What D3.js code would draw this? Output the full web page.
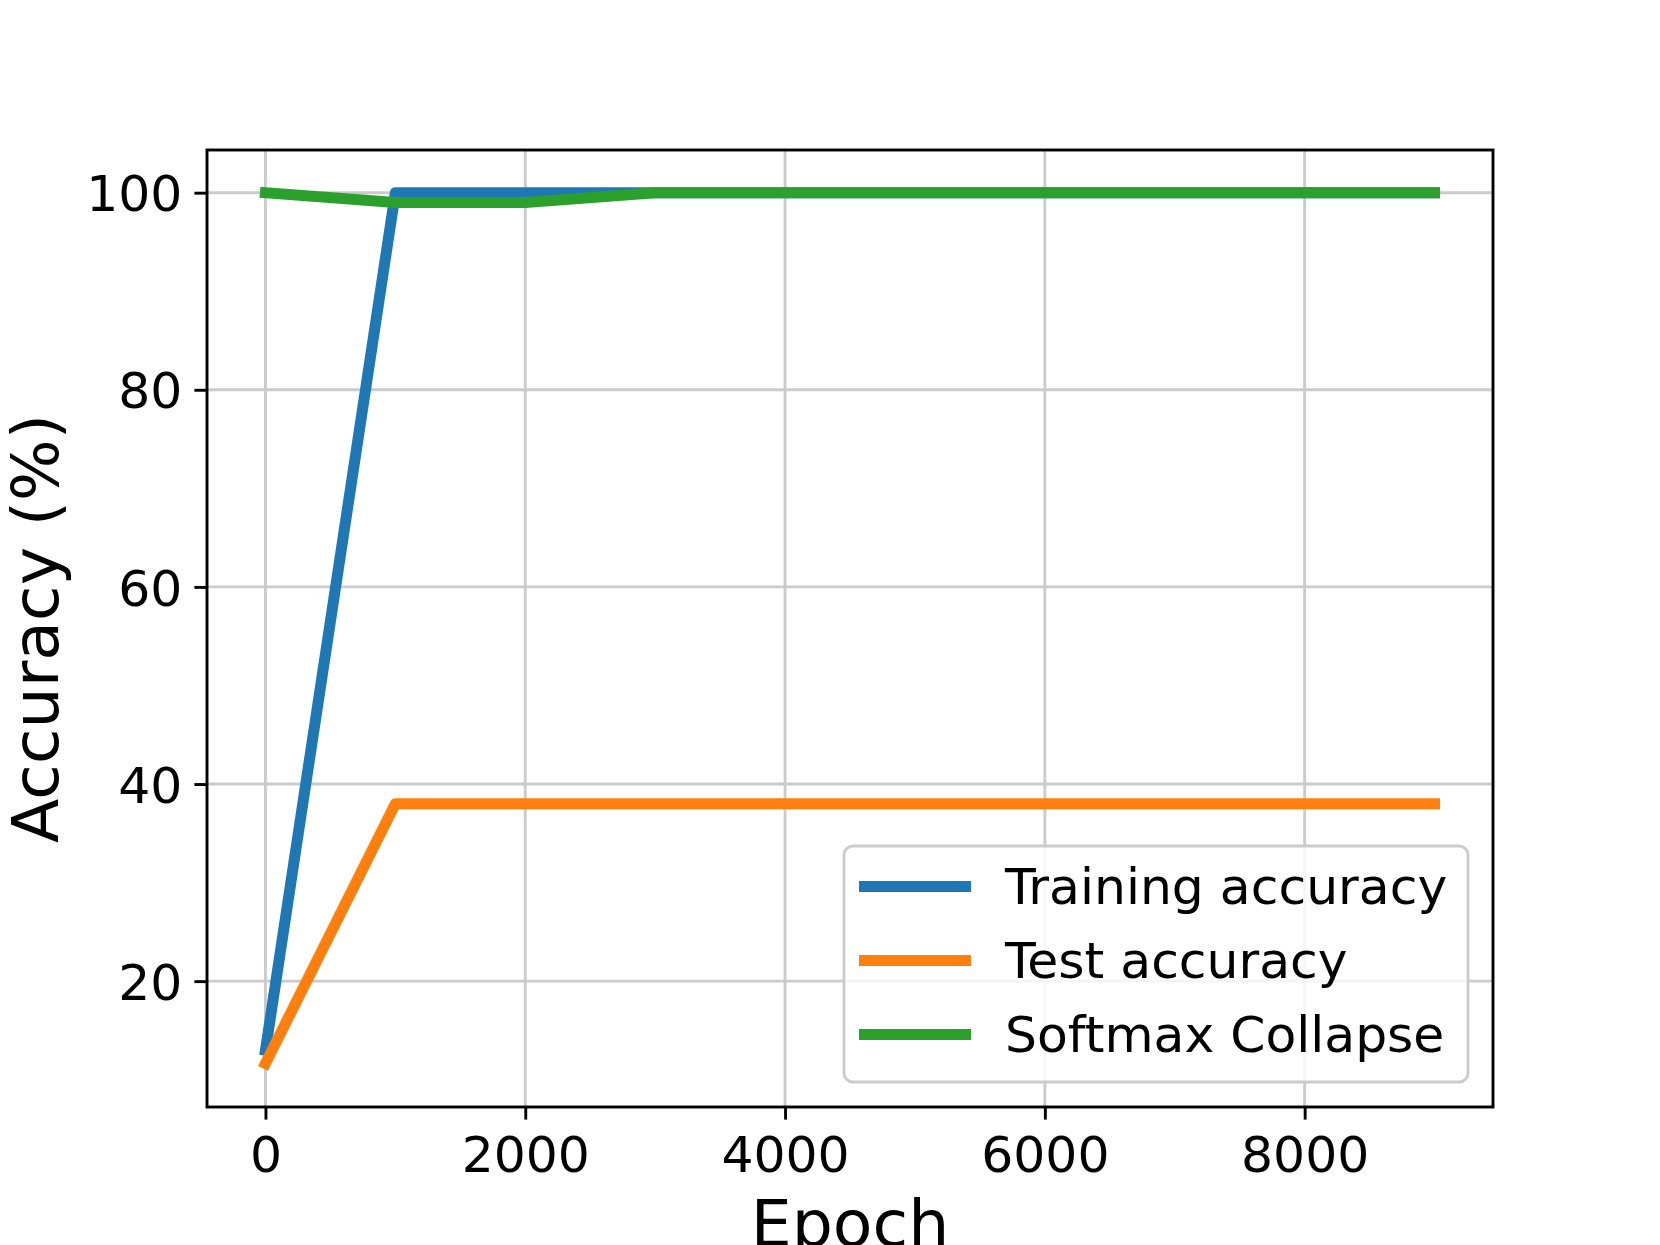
<!DOCTYPE html>
<html>
<head>
<meta charset="utf-8">
<script src="https://cdn.jsdelivr.net/npm/d3@7"></script>
<style>
  html, body { margin: 0; padding: 0; background: #fff; }
  svg { display: block; font-family: "DejaVu Sans", sans-serif; }
</style>
</head>
<body>
<svg id="chart" width="1660" height="1245"></svg>
<script>
// ---- data ----
const epochs = [0, 1000, 2000, 3000, 4000, 5000, 6000, 7000, 8000, 9000];
const trainingAccuracy = [13.0, 100, 100, 100, 100, 100, 100, 100, 100, 100];
const testAccuracy = [11.65, 38, 38, 38, 38, 38, 38, 38, 38, 38];
const softmaxCollapse = [100, 99, 99, 100, 100, 100, 100, 100, 100, 100];
const seriesNames = ["Training accuracy", "Test accuracy", "Softmax Collapse"];
const seriesColors = ["#1f77b4", "#ff7f0e", "#2ca02c"];
const xTicks = [0, 2000, 4000, 6000, 8000];
const yTicks = [20, 40, 60, 80, 100];
const xLabel = "Epoch";
const yLabel = "Accuracy (%)";

// ---- layout ----
const svg = d3.select("#chart");
const L = 207, R = 1493, T = 150, B = 1107;
const x = d3.scaleLinear().domain([-450, 9450]).range([L, R]);
const y = d3.scaleLinear().domain([7.23, 104.33]).range([B, T]);

const tickFont = 50.4;
const labelFont = 64.85;
const gridColor = "#cbcbcb";

// grid
const grid = svg.append("g");
grid.selectAll("line.gx").data(xTicks).join("line")
  .attr("x1", d => x(d)).attr("x2", d => x(d))
  .attr("y1", T).attr("y2", B)
  .attr("stroke", gridColor).attr("stroke-width", 2.9);
grid.selectAll("line.gy").data(yTicks).join("line")
  .attr("y1", d => y(d)).attr("y2", d => y(d))
  .attr("x1", L).attr("x2", R)
  .attr("stroke", gridColor).attr("stroke-width", 2.9);

// lines
const series = [trainingAccuracy, testAccuracy, softmaxCollapse];
const line = d3.line().x((d, i) => x(epochs[i])).y(d => y(d));
series.forEach((s, k) => {
  svg.append("path")
    .datum(s)
    .attr("d", line)
    .attr("fill", "none")
    .attr("stroke", seriesColors[k])
    .attr("stroke-width", 11)
    .attr("stroke-linecap", "square")
    .attr("stroke-linejoin", "round");
});

// axes
const xAxis = d3.axisBottom(x).tickValues(xTicks).tickFormat(d3.format("d")).tickSize(12.6).tickPadding(10);
const yAxis = d3.axisLeft(y).tickValues(yTicks).tickFormat(d3.format("d")).tickSize(12.6).tickPadding(12);

const gx = svg.append("g").attr("transform", `translate(0,${B})`).call(xAxis);
const gy = svg.append("g").attr("transform", `translate(${L},0)`).call(yAxis);
[gx, gy].forEach(g => {
  g.select(".domain").remove();
  g.selectAll(".tick line").attr("stroke", "#000").attr("stroke-width", 2.9);
  g.selectAll(".tick text")
    .attr("fill", "#000")
    .style("font-family", "'DejaVu Sans', sans-serif")
    .style("font-size", tickFont + "px");
});
gx.selectAll(".tick text").attr("dy", null).attr("y", 64.5);
gy.selectAll(".tick text").attr("dy", "0.36em");

// spines
svg.append("rect")
  .attr("x", L).attr("y", T)
  .attr("width", R - L).attr("height", B - T)
  .attr("fill", "none").attr("stroke", "#000").attr("stroke-width", 2.9);

// axis labels
svg.append("text")
  .attr("x", (L + R) / 2).attr("y", 1246)
  .attr("text-anchor", "middle")
  .style("font-size", labelFont + "px")
  .text(xLabel);
svg.append("text")
  .attr("transform", `translate(58,${(T + B) / 2}) rotate(-90)`)
  .attr("text-anchor", "middle")
  .style("font-size", labelFont + "px")
  .text(yLabel);

// legend
const lg = svg.append("g");
lg.append("rect")
  .attr("x", 844).attr("y", 846)
  .attr("width", 624).attr("height", 236)
  .attr("rx", 9).attr("ry", 9)
  .attr("fill", "#fff").attr("fill-opacity", 0.8)
  .attr("stroke", "#cccccc").attr("stroke-width", 2.9);
const rowY = [886.5, 960.5, 1034.5];
seriesNames.forEach((name, k) => {
  lg.append("line")
    .attr("x1", 859).attr("x2", 971)
    .attr("y1", rowY[k]).attr("y2", rowY[k])
    .attr("stroke", seriesColors[k]).attr("stroke-width", 11);
  lg.append("text")
    .attr("x", 1005).attr("y", rowY[k] + 17.5)
    .style("font-size", tickFont + "px")
    .attr("fill", "#000")
    .text(name);
});
</script>
</body>
</html>
